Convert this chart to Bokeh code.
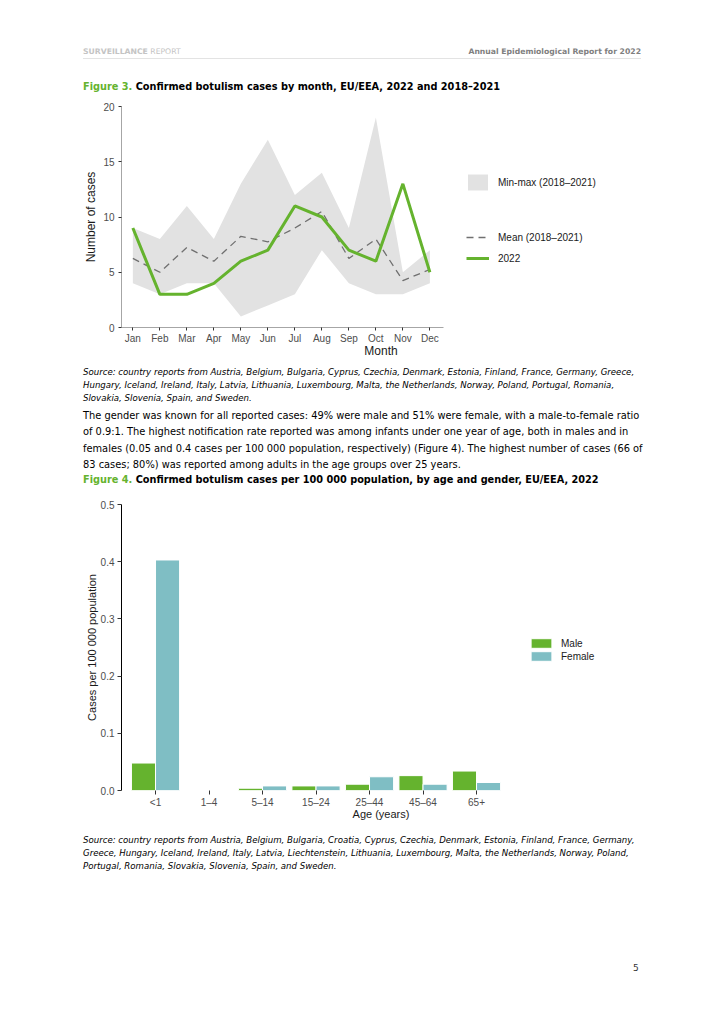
from bokeh.plotting import figure
from bokeh.models import (Range1d, Legend, LegendItem, Div, FixedTicker,
                          ColumnDataSource, PrintfTickFormatter)
from bokeh.layouts import column
from bokeh.transform import dodge
from bokeh.embed import file_html
from bokeh.resources import INLINE

# ---------------- data ----------------
months = ["Jan", "Feb", "Mar", "Apr", "May", "Jun", "Jul", "Aug", "Sep", "Oct", "Nov", "Dec"]
max_2018_2021 = [9, 8, 11, 8, 13, 17, 12, 14, 9, 19, 5, 7]
min_2018_2021 = [4, 3, 4, 4, 1, 2, 3, 7, 4, 3, 3, 4]
mean_2018_2021 = [6.25, 5, 7.25, 6, 8.25, 7.75, 9, 10.5, 6.25, 8, 4.25, 5.25]
cases_2022 = [9, 3, 3, 4, 6, 7, 11, 10, 7, 6, 13, 5]

ages = ["<1", "1\u20134", "5\u201314", "15\u201324", "25\u201344", "45\u201364", "65+"]
rate_male = [0.048, 0.0, 0.004, 0.008, 0.011, 0.026, 0.034]
rate_female = [0.403, 0.0, 0.008, 0.008, 0.024, 0.011, 0.014]

GREEN = "#65b32e"
TEAL = "#7fbec4"
CHART_FONT = "Liberation Sans"
PAGE_FONT = "DejaVu Sans"

W = 708
LEFT = 121
RIGHT = 68


def style_axes(p, label_size):
    for ax in (p.xaxis, p.yaxis):
        ax.major_label_text_font = CHART_FONT
        ax.major_label_text_font_size = "10px"
        ax.major_label_text_color = "#4d4d4d"
        ax.axis_label_text_font = CHART_FONT
        ax.axis_label_text_font_size = label_size
        ax.axis_label_text_font_style = "normal"
        ax.axis_label_text_color = "#1a1a1a"
        ax.major_tick_line_color = "#333333"
        ax.major_tick_out = 3
        ax.major_tick_in = 0
        ax.minor_tick_line_color = None
        ax.axis_line_color = "#a6a6a6"
    p.xgrid.visible = False
    p.ygrid.visible = False
    p.outline_line_color = None


def style_legend(lg, gw, gh, sp, standoff):
    lg.glyph_width = gw
    lg.glyph_height = gh
    lg.label_height = gh
    lg.spacing = sp
    lg.padding = 0
    lg.margin = 0
    lg.label_standoff = standoff
    lg.border_line_color = None
    lg.background_fill_alpha = 0
    lg.label_text_font = CHART_FONT
    lg.label_text_font_size = "10px"
    lg.label_text_color = "#1a1a1a"
    lg.label_text_baseline = "middle"


# ---------------- header ----------------
header = Div(width=W, height=96, margin=0, text=f"""
<div style="position:relative;width:{W}px;height:96px;font-family:'{PAGE_FONT}';">
  <div style="position:absolute;left:83px;top:46px;font-size:7.7px;line-height:11px;color:#c4c4c4;white-space:nowrap;">
    <b>SURVEILLANCE</b> REPORT</div>
  <div style="position:absolute;right:67px;top:46px;font-size:7.7px;line-height:11px;color:#808080;font-weight:bold;white-space:nowrap;">
    Annual Epidemiological Report for 2022</div>
  <div style="position:absolute;left:83px;top:58px;width:558px;height:1px;background:#e3e3e3;"></div>
  <div style="position:absolute;left:83px;top:80px;font-size:9.75px;line-height:14px;font-weight:bold;color:#000;white-space:nowrap;">
    <span style="color:{GREEN};">Figure 3.</span> Confirmed botulism cases by month, EU/EEA, 2022 and 2018\u20132021</div>
</div>""")

# ---------------- figure 3 ----------------
month_idx = list(range(len(months)))
src1 = ColumnDataSource(dict(x=month_idx, lo=min_2018_2021, hi=max_2018_2021,
                             mean=mean_2018_2021, y2022=cases_2022))
p1 = figure(width=W, height=267, x_range=Range1d(-0.42, 18.80), y_range=Range1d(0, 20),
            output_backend="svg", toolbar_location=None,
            min_border_left=LEFT, min_border_right=RIGHT, min_border_top=10, min_border_bottom=36)
band = p1.varea(x="x", y1="lo", y2="hi", source=src1, fill_color="#e2e2e2")
mean_r = p1.line(x="x", y="mean", source=src1, line_color="#707070", line_width=1.3,
                 line_dash="7 5")
r2022 = p1.line(x="x", y="y2022", source=src1, line_color=GREEN, line_width=3)
style_axes(p1, "12px")
p1.yaxis.ticker = FixedTicker(ticks=[0, 5, 10, 15, 20])
p1.yaxis.axis_label = "Number of cases"
p1.yaxis.major_label_standoff = 4
p1.yaxis.axis_label_standoff = 2
p1.xaxis.ticker = FixedTicker(ticks=month_idx)
p1.xaxis.major_label_overrides = {i: m for i, m in zip(month_idx, months)}
p1.xaxis.bounds = (-0.42, len(months) - 0.48)
p1.xaxis.axis_label = "Month"
p1.xaxis.major_label_standoff = 2
p1.xaxis.axis_label_standoff = -3

leg_a = Legend(items=[LegendItem(label="Min-max (2018\u20132021)", renderers=[band])],
               location=(344, 135))
leg_b = Legend(items=[LegendItem(label="Mean (2018\u20132021)", renderers=[mean_r]),
                      LegendItem(label="2022", renderers=[r2022])],
               location=(345, 62))
style_legend(leg_a, 25, 20, 0, 8)
style_legend(leg_b, 23, 14, 7, 9)
p1.add_layout(leg_a)
p1.add_layout(leg_b)

# ---------------- middle text ----------------
middle = Div(width=W, height=131, margin=0, text=f"""
<div style="position:relative;width:{W}px;height:131px;font-family:'{PAGE_FONT}';color:#000;">
  <div style="position:absolute;left:83px;top:2.5px;font-size:8.6px;line-height:13px;font-style:italic;white-space:nowrap;">
    Source: country reports from Austria, Belgium, Bulgaria, Cyprus, Czechia, Denmark, Estonia, Finland, France, Germany, Greece,<br>
    Hungary, Iceland, Ireland, Italy, Latvia, Lithuania, Luxembourg, Malta, the Netherlands, Norway, Poland, Portugal, Romania,<br>
    Slovakia, Slovenia, Spain, and Sweden.</div>
  <div style="position:absolute;left:83px;top:44.7px;font-size:9.85px;line-height:16.6px;white-space:nowrap;">
    The gender was known for all reported cases: 49% were male and 51% were female, with a male-to-female ratio<br>
    of 0.9:1. The highest notification rate reported was among infants under one year of age, both in males and in<br>
    females (0.05 and 0.4 cases per 100 000 population, respectively) (Figure 4). The highest number of cases (66 of<br>
    83 cases; 80%) was reported among adults in the age groups over 25 years.</div>
  <div style="position:absolute;left:83px;top:110px;font-size:9.75px;line-height:14px;font-weight:bold;white-space:nowrap;">
    <span style="color:{GREEN};">Figure 4.</span> Confirmed botulism cases per 100 000 population, by age and gender, EU/EEA, 2022</div>
</div>""")

# ---------------- figure 4 ----------------
age_idx = list(range(len(ages)))
src2 = ColumnDataSource(dict(x=age_idx, male=rate_male, female=rate_female))
p2 = figure(width=W, height=332, x_range=Range1d(-0.636, 9.065), y_range=Range1d(0, 0.5),
            output_backend="svg", toolbar_location=None,
            min_border_left=LEFT, min_border_right=RIGHT, min_border_top=10, min_border_bottom=36)
bm = p2.vbar(x=dodge("x", -0.225), top="male", width=0.45, source=src2,
             fill_color=GREEN, line_color="white", line_width=1)
bf = p2.vbar(x=dodge("x", 0.225), top="female", width=0.45, source=src2,
             fill_color=TEAL, line_color="white", line_width=1)
style_axes(p2, "11px")
p2.yaxis.ticker = FixedTicker(ticks=[0, 0.1, 0.2, 0.3, 0.4, 0.5])
p2.yaxis.formatter = PrintfTickFormatter(format="%.1f")
p2.yaxis.axis_label = "Cases per 100 000 population"
p2.yaxis.axis_line_color = "#000000"
p2.yaxis.major_tick_out = 4
p2.yaxis.major_label_standoff = 3
p2.yaxis.axis_label_standoff = 0
p2.xaxis.ticker = FixedTicker(ticks=age_idx)
p2.xaxis.major_label_overrides = {i: a for i, a in zip(age_idx, ages)}
p2.xaxis.axis_label = "Age (years)"
p2.xaxis.axis_line_color = None
p2.xaxis.major_tick_out = 4
p2.xaxis.major_label_standoff = 2
p2.xaxis.axis_label_standoff = -3

leg2 = Legend(items=[LegendItem(label="Male", renderers=[bm]),
                     LegendItem(label="Female", renderers=[bf])],
              location=(407, 128))
style_legend(leg2, 26, 12, 1, 7)
p2.add_layout(leg2)

# ---------------- footer ----------------
footer = Div(width=W, height=190, margin=0, text=f"""
<div style="position:relative;width:{W}px;height:190px;font-family:'{PAGE_FONT}';color:#000;">
  <div style="position:absolute;left:83px;top:7.5px;font-size:8.6px;line-height:13px;font-style:italic;white-space:nowrap;">
    Source: country reports from Austria, Belgium, Bulgaria, Croatia, Cyprus, Czechia, Denmark, Estonia, Finland, France, Germany,<br>
    Greece, Hungary, Iceland, Ireland, Italy, Latvia, Liechtenstein, Lithuania, Luxembourg, Malta, the Netherlands, Norway, Poland,<br>
    Portugal, Romania, Slovakia, Slovenia, Spain, and Sweden.</div>
  <div style="position:absolute;left:633px;top:136px;font-size:9px;line-height:12px;color:#333;">5</div>
</div>""")

page = column(header, p1, middle, p2, footer, spacing=0)
open("out.html", "w").write(file_html(page, INLINE))
